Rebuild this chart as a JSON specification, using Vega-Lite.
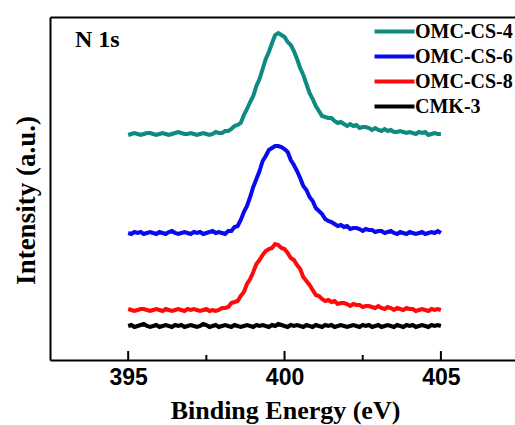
{
"$schema": "https://vega.github.io/schema/vega-lite/v6.json",
"width": 465, "height": 343,
"autosize": {"type": "none"},
"padding": {"left": 50, "top": 17, "right": 0, "bottom": 65},
"background": "white",
"config": {"view": {"stroke": null}, "font": "Liberation Serif"},
"data": {"values": [
{"e":395.0,"OMC-CS-4":225,"OMC-CS-6":127,"OMC-CS-8":51,"CMK-3":34},
{"e":395.1,"OMC-CS-4":226,"OMC-CS-6":126,"OMC-CS-8":50,"CMK-3":35},
{"e":395.2,"OMC-CS-4":227,"OMC-CS-6":128,"OMC-CS-8":49,"CMK-3":33},
{"e":395.3,"OMC-CS-4":226,"OMC-CS-6":127,"OMC-CS-8":50,"CMK-3":34},
{"e":395.4,"OMC-CS-4":225,"OMC-CS-6":128,"OMC-CS-8":51,"CMK-3":35},
{"e":395.5,"OMC-CS-4":226,"OMC-CS-6":126,"OMC-CS-8":51,"CMK-3":36},
{"e":395.6,"OMC-CS-4":227,"OMC-CS-6":127,"OMC-CS-8":50,"CMK-3":34},
{"e":395.7,"OMC-CS-4":227,"OMC-CS-6":128,"OMC-CS-8":49,"CMK-3":33},
{"e":395.8,"OMC-CS-4":226,"OMC-CS-6":127,"OMC-CS-8":50,"CMK-3":34},
{"e":395.9,"OMC-CS-4":225,"OMC-CS-6":126,"OMC-CS-8":51,"CMK-3":35},
{"e":396.0,"OMC-CS-4":226,"OMC-CS-6":128,"OMC-CS-8":50,"CMK-3":33},
{"e":396.1,"OMC-CS-4":227,"OMC-CS-6":127,"OMC-CS-8":49,"CMK-3":34},
{"e":396.2,"OMC-CS-4":226,"OMC-CS-6":126,"OMC-CS-8":51,"CMK-3":35},
{"e":396.3,"OMC-CS-4":225,"OMC-CS-6":128,"OMC-CS-8":50,"CMK-3":34},
{"e":396.4,"OMC-CS-4":226,"OMC-CS-6":129,"OMC-CS-8":49,"CMK-3":33},
{"e":396.5,"OMC-CS-4":227,"OMC-CS-6":127,"OMC-CS-8":50,"CMK-3":35},
{"e":396.6,"OMC-CS-4":228,"OMC-CS-6":126,"OMC-CS-8":51,"CMK-3":34},
{"e":396.7,"OMC-CS-4":227,"OMC-CS-6":127,"OMC-CS-8":50,"CMK-3":35},
{"e":396.8,"OMC-CS-4":226,"OMC-CS-6":128,"OMC-CS-8":49,"CMK-3":33},
{"e":396.9,"OMC-CS-4":226,"OMC-CS-6":127,"OMC-CS-8":51,"CMK-3":34},
{"e":397.0,"OMC-CS-4":227,"OMC-CS-6":126,"OMC-CS-8":50,"CMK-3":35},
{"e":397.1,"OMC-CS-4":226,"OMC-CS-6":128,"OMC-CS-8":51,"CMK-3":34},
{"e":397.2,"OMC-CS-4":225,"OMC-CS-6":127,"OMC-CS-8":50,"CMK-3":33},
{"e":397.3,"OMC-CS-4":226,"OMC-CS-6":128,"OMC-CS-8":49,"CMK-3":34},
{"e":397.4,"OMC-CS-4":227,"OMC-CS-6":126,"OMC-CS-8":50,"CMK-3":36},
{"e":397.5,"OMC-CS-4":226,"OMC-CS-6":127,"OMC-CS-8":51,"CMK-3":35},
{"e":397.6,"OMC-CS-4":225,"OMC-CS-6":128,"OMC-CS-8":49,"CMK-3":33},
{"e":397.7,"OMC-CS-4":226,"OMC-CS-6":129,"OMC-CS-8":50,"CMK-3":34},
{"e":397.8,"OMC-CS-4":228,"OMC-CS-6":127,"OMC-CS-8":49,"CMK-3":35},
{"e":397.9,"OMC-CS-4":227,"OMC-CS-6":128,"OMC-CS-8":50,"CMK-3":33},
{"e":398.0,"OMC-CS-4":227,"OMC-CS-6":127,"OMC-CS-8":52,"CMK-3":34},
{"e":398.1,"OMC-CS-4":229,"OMC-CS-6":126,"OMC-CS-8":52,"CMK-3":35},
{"e":398.2,"OMC-CS-4":229,"OMC-CS-6":129,"OMC-CS-8":53,"CMK-3":34},
{"e":398.3,"OMC-CS-4":231,"OMC-CS-6":129,"OMC-CS-8":57,"CMK-3":33},
{"e":398.4,"OMC-CS-4":234,"OMC-CS-6":133,"OMC-CS-8":58,"CMK-3":35},
{"e":398.5,"OMC-CS-4":235,"OMC-CS-6":134,"OMC-CS-8":59,"CMK-3":34},
{"e":398.6,"OMC-CS-4":237,"OMC-CS-6":140,"OMC-CS-8":64,"CMK-3":33},
{"e":398.7,"OMC-CS-4":245,"OMC-CS-6":148,"OMC-CS-8":68,"CMK-3":34},
{"e":398.8,"OMC-CS-4":251,"OMC-CS-6":154,"OMC-CS-8":76,"CMK-3":35},
{"e":398.9,"OMC-CS-4":258,"OMC-CS-6":163,"OMC-CS-8":81,"CMK-3":34},
{"e":399.0,"OMC-CS-4":264,"OMC-CS-6":173,"OMC-CS-8":88,"CMK-3":33},
{"e":399.1,"OMC-CS-4":274,"OMC-CS-6":181,"OMC-CS-8":96,"CMK-3":35},
{"e":399.2,"OMC-CS-4":281,"OMC-CS-6":189,"OMC-CS-8":100,"CMK-3":34},
{"e":399.3,"OMC-CS-4":291,"OMC-CS-6":199,"OMC-CS-8":105,"CMK-3":35},
{"e":399.4,"OMC-CS-4":301,"OMC-CS-6":204,"OMC-CS-8":109,"CMK-3":34},
{"e":399.5,"OMC-CS-4":308,"OMC-CS-6":210,"OMC-CS-8":111,"CMK-3":33},
{"e":399.6,"OMC-CS-4":317,"OMC-CS-6":212,"OMC-CS-8":112,"CMK-3":35},
{"e":399.7,"OMC-CS-4":325,"OMC-CS-6":214,"OMC-CS-8":116,"CMK-3":34},
{"e":399.8,"OMC-CS-4":327,"OMC-CS-6":214,"OMC-CS-8":115,"CMK-3":36},
{"e":399.9,"OMC-CS-4":325,"OMC-CS-6":213,"OMC-CS-8":112,"CMK-3":35},
{"e":400.0,"OMC-CS-4":323,"OMC-CS-6":211,"OMC-CS-8":111,"CMK-3":34},
{"e":400.1,"OMC-CS-4":318,"OMC-CS-6":208,"OMC-CS-8":107,"CMK-3":33},
{"e":400.2,"OMC-CS-4":315,"OMC-CS-6":200,"OMC-CS-8":102,"CMK-3":35},
{"e":400.3,"OMC-CS-4":309,"OMC-CS-6":195,"OMC-CS-8":100,"CMK-3":34},
{"e":400.4,"OMC-CS-4":301,"OMC-CS-6":189,"OMC-CS-8":95,"CMK-3":35},
{"e":400.5,"OMC-CS-4":292,"OMC-CS-6":182,"OMC-CS-8":91,"CMK-3":34},
{"e":400.6,"OMC-CS-4":285,"OMC-CS-6":174,"OMC-CS-8":83,"CMK-3":33},
{"e":400.7,"OMC-CS-4":276,"OMC-CS-6":170,"OMC-CS-8":79,"CMK-3":35},
{"e":400.8,"OMC-CS-4":267,"OMC-CS-6":163,"OMC-CS-8":75,"CMK-3":34},
{"e":400.9,"OMC-CS-4":261,"OMC-CS-6":159,"OMC-CS-8":70,"CMK-3":33},
{"e":401.0,"OMC-CS-4":254,"OMC-CS-6":152,"OMC-CS-8":65,"CMK-3":35},
{"e":401.1,"OMC-CS-4":249,"OMC-CS-6":149,"OMC-CS-8":64,"CMK-3":34},
{"e":401.2,"OMC-CS-4":244,"OMC-CS-6":146,"OMC-CS-8":61,"CMK-3":33},
{"e":401.3,"OMC-CS-4":243,"OMC-CS-6":141,"OMC-CS-8":59,"CMK-3":35},
{"e":401.4,"OMC-CS-4":242,"OMC-CS-6":139,"OMC-CS-8":60,"CMK-3":34},
{"e":401.5,"OMC-CS-4":242,"OMC-CS-6":138,"OMC-CS-8":58,"CMK-3":35},
{"e":401.6,"OMC-CS-4":239,"OMC-CS-6":136,"OMC-CS-8":59,"CMK-3":33},
{"e":401.7,"OMC-CS-4":237,"OMC-CS-6":134,"OMC-CS-8":56,"CMK-3":34},
{"e":401.8,"OMC-CS-4":238,"OMC-CS-6":135,"OMC-CS-8":57,"CMK-3":35},
{"e":401.9,"OMC-CS-4":236,"OMC-CS-6":133,"OMC-CS-8":57,"CMK-3":34},
{"e":402.0,"OMC-CS-4":234,"OMC-CS-6":134,"OMC-CS-8":56,"CMK-3":33},
{"e":402.1,"OMC-CS-4":236,"OMC-CS-6":131,"OMC-CS-8":54,"CMK-3":34},
{"e":402.2,"OMC-CS-4":234,"OMC-CS-6":132,"OMC-CS-8":56,"CMK-3":35},
{"e":402.3,"OMC-CS-4":235,"OMC-CS-6":132,"OMC-CS-8":55,"CMK-3":34},
{"e":402.4,"OMC-CS-4":232,"OMC-CS-6":131,"OMC-CS-8":55,"CMK-3":33},
{"e":402.5,"OMC-CS-4":233,"OMC-CS-6":129,"OMC-CS-8":53,"CMK-3":35},
{"e":402.6,"OMC-CS-4":233,"OMC-CS-6":131,"OMC-CS-8":54,"CMK-3":34},
{"e":402.7,"OMC-CS-4":232,"OMC-CS-6":130,"OMC-CS-8":54,"CMK-3":35},
{"e":402.8,"OMC-CS-4":230,"OMC-CS-6":130,"OMC-CS-8":53,"CMK-3":33},
{"e":402.9,"OMC-CS-4":232,"OMC-CS-6":128,"OMC-CS-8":52,"CMK-3":34},
{"e":403.0,"OMC-CS-4":230,"OMC-CS-6":129,"OMC-CS-8":54,"CMK-3":35},
{"e":403.1,"OMC-CS-4":229,"OMC-CS-6":129,"OMC-CS-8":52,"CMK-3":33},
{"e":403.2,"OMC-CS-4":231,"OMC-CS-6":127,"OMC-CS-8":51,"CMK-3":34},
{"e":403.3,"OMC-CS-4":229,"OMC-CS-6":128,"OMC-CS-8":53,"CMK-3":35},
{"e":403.4,"OMC-CS-4":230,"OMC-CS-6":129,"OMC-CS-8":52,"CMK-3":34},
{"e":403.5,"OMC-CS-4":228,"OMC-CS-6":127,"OMC-CS-8":50,"CMK-3":33},
{"e":403.6,"OMC-CS-4":228,"OMC-CS-6":126,"OMC-CS-8":52,"CMK-3":35},
{"e":403.7,"OMC-CS-4":229,"OMC-CS-6":128,"OMC-CS-8":51,"CMK-3":34},
{"e":403.8,"OMC-CS-4":228,"OMC-CS-6":127,"OMC-CS-8":50,"CMK-3":33},
{"e":403.9,"OMC-CS-4":227,"OMC-CS-6":126,"OMC-CS-8":52,"CMK-3":35},
{"e":404.0,"OMC-CS-4":228,"OMC-CS-6":128,"OMC-CS-8":51,"CMK-3":34},
{"e":404.1,"OMC-CS-4":227,"OMC-CS-6":127,"OMC-CS-8":51,"CMK-3":35},
{"e":404.2,"OMC-CS-4":226,"OMC-CS-6":126,"OMC-CS-8":49,"CMK-3":33},
{"e":404.3,"OMC-CS-4":228,"OMC-CS-6":127,"OMC-CS-8":50,"CMK-3":34},
{"e":404.4,"OMC-CS-4":227,"OMC-CS-6":128,"OMC-CS-8":51,"CMK-3":35},
{"e":404.5,"OMC-CS-4":228,"OMC-CS-6":126,"OMC-CS-8":50,"CMK-3":34},
{"e":404.6,"OMC-CS-4":225,"OMC-CS-6":127,"OMC-CS-8":49,"CMK-3":33},
{"e":404.7,"OMC-CS-4":226,"OMC-CS-6":128,"OMC-CS-8":51,"CMK-3":35},
{"e":404.8,"OMC-CS-4":227,"OMC-CS-6":127,"OMC-CS-8":50,"CMK-3":34},
{"e":404.9,"OMC-CS-4":226,"OMC-CS-6":129,"OMC-CS-8":51,"CMK-3":35},
{"e":405.0,"OMC-CS-4":226,"OMC-CS-6":127,"OMC-CS-8":50,"CMK-3":34}
]},
"layer": [
{
"transform": [{"fold": ["OMC-CS-4", "OMC-CS-6", "OMC-CS-8", "CMK-3"], "as": ["sample", "intensity"]}],
"mark": {"type": "line", "strokeWidth": 4, "clip": true},
"encoding": {
"x": {"field": "e", "type": "quantitative",
"scale": {"domain": [392.5, 407.37], "nice": false, "zero": false},
"axis": {"orient": "bottom", "title": "Binding Energy (eV)", "values": [395, 400, 405],
"grid": false, "domainColor": "black", "domainWidth": 2, "ticks": false,
"labelFont": "Liberation Sans", "labelFontWeight": "bold", "labelFontSize": 23, "labelColor": "black",
"labelPadding": 17, "labelBaseline": "middle",
"titleFont": "Liberation Serif", "titleFontWeight": "bold", "titleFontSize": 26, "titleColor": "black",
"titleX": 235, "titleY": 58, "titleBaseline": "alphabetic", "titleAlign": "center"}},
"y": {"field": "intensity", "type": "quantitative",
"scale": {"domain": [0, 343], "nice": false, "zero": false},
"axis": {"orient": "left", "title": "Intensity (a.u.)", "labels": false, "ticks": false, "grid": false,
"domainColor": "black", "domainWidth": 2,
"titleFont": "Liberation Serif", "titleFontWeight": "bold", "titleFontSize": 27, "titleColor": "black",
"titleAngle": -90, "titleX": -24, "titleY": 183, "titleBaseline": "middle", "titleAlign": "center"}},
"color": {"field": "sample", "type": "nominal",
"scale": {"domain": ["OMC-CS-4", "OMC-CS-6", "OMC-CS-8", "CMK-3"], "range": ["#0e8a80", "#0a0af0", "#ff0a0a", "#000000"]},
"legend": {"orient": "none", "legendX": 330, "legendY": 0, "title": null, "padding": 0,
"symbolType": "M-1.6,0H1.6", "symbolSize": 625, "symbolStrokeWidth": 4,
"labelFont": "Liberation Serif", "labelFontWeight": "bold", "labelFontSize": 20, "labelColor": "black",
"labelOffset": 6, "rowPadding": 0, "labelLimit": 200}}
}
},
{
"data": {"values": [{"label": "N 1s", "e": 393.3, "intensity": 320}]},
"mark": {"type": "text", "font": "Liberation Serif", "fontWeight": "bold", "fontSize": 24, "align": "left", "baseline": "middle", "color": "black"},
"encoding": {
"x": {"field": "e", "type": "quantitative",
"axis": {"orient": "top", "labels": false, "ticks": false, "title": null, "grid": false, "domainColor": "black", "domainWidth": 2}},
"y": {"field": "intensity", "type": "quantitative"},
"text": {"field": "label"}
}
},
{
"data": {"values": [{"major": 395}, {"major": 400}, {"major": 405}]},
"mark": {"type": "rule", "color": "black", "strokeWidth": 2},
"encoding": {
"x": {"field": "major", "type": "quantitative", "axis": null},
"y": {"datum": 0, "type": "quantitative"},
"y2": {"datum": 9}
}
},
{
"data": {"values": [{"minor": 397.5}, {"minor": 402.5}]},
"mark": {"type": "rule", "color": "black", "strokeWidth": 2},
"encoding": {
"x": {"field": "minor", "type": "quantitative", "axis": null},
"y": {"datum": 0, "type": "quantitative"},
"y2": {"datum": 5}
}
}
],
"resolve": {"axis": {"x": "independent"}}
}
